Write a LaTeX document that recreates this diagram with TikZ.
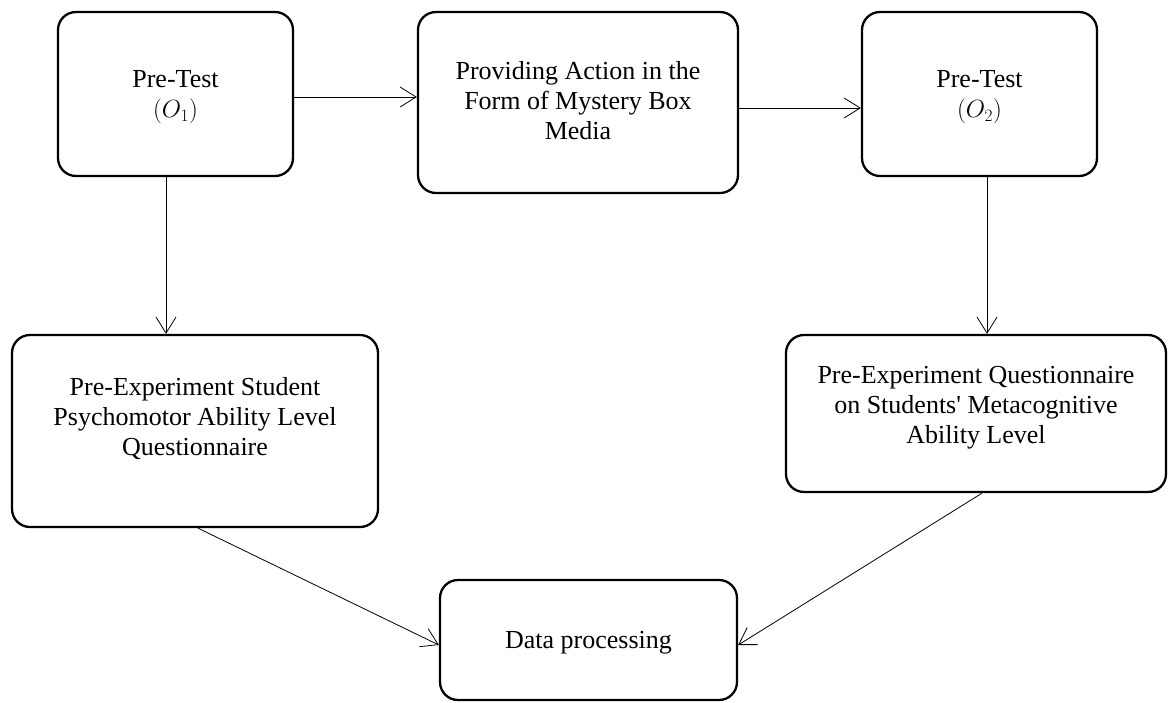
\documentclass[tikz,border=0pt]{standalone}
\usepackage{fontspec}
\setmainfont{Liberation Serif}
\usetikzlibrary{arrows.meta,calc}
\begin{document}
\begin{tikzpicture}[x=1pt,y=-1pt,
  stagebox/.style={draw=black,line width=2.3pt,rounded corners=18pt,inner sep=0pt},
  txt/.style={align=center,font=\fontsize{26}{30}\selectfont,inner sep=0pt},
  arr/.style={draw=black,line width=0.8pt,-{Straight Barb[length=16pt,width=20pt,line width=0.8pt]}}]
\useasboundingbox (0,0) rectangle (1169,702);
% boxes
\node[stagebox,minimum width=235pt,minimum height=164pt] (b1) at (175.5,94) {};
\node[stagebox,minimum width=320pt,minimum height=181pt] (b2) at (578,102.5) {};
\node[stagebox,minimum width=235pt,minimum height=164pt] (b3) at (979.5,94) {};
\node[stagebox,minimum width=366pt,minimum height=192pt] (b4) at (195,431) {};
\node[stagebox,minimum width=380pt,minimum height=157pt] (b5) at (976,413.5) {};
\node[stagebox,minimum width=297pt,minimum height=120pt] (b6) at (588.5,640) {};
% texts
\node[txt] (t1) at ([yshift=-3pt]b1.center) {Pre-Test\\$(O_1)$};
\node[txt] (t2) at ([yshift=2pt]b2.center) {Providing Action in the\\Form of Mystery Box\\Media};
\node[txt] (t3) at ([yshift=-3pt]b3.center) {Pre-Test\\$(O_2)$};
\node[txt] (t4) at ([yshift=12pt]b4.center) {Pre-Experiment Student\\Psychomotor Ability Level\\Questionnaire};
\node[txt] (t5) at ([yshift=6pt]b5.center) {Pre-Experiment Questionnaire\\on Students\textquotesingle{} Metacognitive\\Ability Level};
\node[txt] (t6) at ([yshift=-3pt]b6.center) {Data processing};
% connectors
\draw[arr] ([yshift=-3pt]b1.east) -- ([yshift=-3pt]b1.east -| b2.west);
\draw[arr] ([yshift=-5.5pt]b2.east) -- ([yshift=-5.5pt]b2.east -| b3.west);
\draw[arr] ([xshift=-9.5pt]b1.south) -- ([xshift=-9.5pt]b1.south |- b4.north);
\draw[arr] ([xshift=7.5pt]b3.south) -- ([xshift=7.5pt]b3.south |- b5.north);
\draw[arr] ([xshift=3pt]b4.south) -- ([yshift=-5pt]b6.west);
\draw[arr] ([xshift=6pt]b5.south) -- ([yshift=-5pt]b6.east);
\end{tikzpicture}
\end{document}
